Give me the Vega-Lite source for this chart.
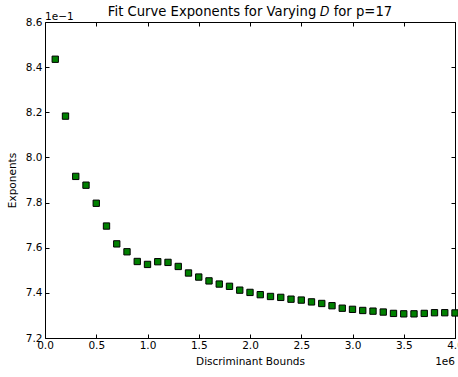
{
  "$schema": "https://vega.github.io/schema/vega-lite/v6.json",
  "width": 410,
  "height": 316,
  "autosize": {"type": "none"},
  "padding": {"left": 45, "top": 22, "right": 3, "bottom": 39},
  "background": "white",
  "title": {
    "text": "Fit Curve Exponents for Varying 𝐷 for p=17",
    "font": "DejaVu Sans",
    "fontSize": 13.2,
    "fontWeight": "normal",
    "color": "black",
    "anchor": "middle",
    "offset": -7
  },
  "config": {
    "view": {"stroke": "black", "strokeWidth": 1},
    "axis": {
      "domain": false,
      "grid": false,
      "tickColor": "black",
      "tickSize": -4,
      "tickWidth": 1,
      "labelFont": "DejaVu Sans",
      "labelFontSize": 10.5,
      "labelColor": "black",
      "titleFont": "DejaVu Sans",
      "titleFontSize": 10.5,
      "titleFontWeight": "normal",
      "titleColor": "black"
    }
  },
  "data": {
    "values": [
      {"bound": 100000, "exponent": 0.8435},
      {"bound": 200000, "exponent": 0.8183},
      {"bound": 300000, "exponent": 0.7916},
      {"bound": 400000, "exponent": 0.7877},
      {"bound": 500000, "exponent": 0.7797},
      {"bound": 600000, "exponent": 0.7696},
      {"bound": 700000, "exponent": 0.7617},
      {"bound": 800000, "exponent": 0.7582},
      {"bound": 900000, "exponent": 0.7539},
      {"bound": 1000000, "exponent": 0.7526},
      {"bound": 1100000, "exponent": 0.7538},
      {"bound": 1200000, "exponent": 0.7535},
      {"bound": 1300000, "exponent": 0.7517},
      {"bound": 1400000, "exponent": 0.7488},
      {"bound": 1500000, "exponent": 0.7470},
      {"bound": 1600000, "exponent": 0.7453},
      {"bound": 1700000, "exponent": 0.7439},
      {"bound": 1800000, "exponent": 0.7429},
      {"bound": 1900000, "exponent": 0.7412},
      {"bound": 2000000, "exponent": 0.7402},
      {"bound": 2100000, "exponent": 0.7392},
      {"bound": 2200000, "exponent": 0.7384},
      {"bound": 2300000, "exponent": 0.7380},
      {"bound": 2400000, "exponent": 0.7372},
      {"bound": 2500000, "exponent": 0.7368},
      {"bound": 2600000, "exponent": 0.7360},
      {"bound": 2700000, "exponent": 0.7353},
      {"bound": 2800000, "exponent": 0.7343},
      {"bound": 2900000, "exponent": 0.7332},
      {"bound": 3000000, "exponent": 0.7327},
      {"bound": 3100000, "exponent": 0.7322},
      {"bound": 3200000, "exponent": 0.7319},
      {"bound": 3300000, "exponent": 0.7315},
      {"bound": 3400000, "exponent": 0.7309},
      {"bound": 3500000, "exponent": 0.7307},
      {"bound": 3600000, "exponent": 0.7307},
      {"bound": 3700000, "exponent": 0.7309},
      {"bound": 3800000, "exponent": 0.7312},
      {"bound": 3900000, "exponent": 0.7312},
      {"bound": 4000000, "exponent": 0.7311}
    ]
  },
  "layer": [
    {
      "mark": {"type": "point", "shape": "square", "filled": true, "size": 40, "fill": "#008000", "stroke": "black", "strokeWidth": 1, "opacity": 1},
      "encoding": {
        "x": {
          "field": "bound", "type": "quantitative",
          "scale": {"domain": [0, 4000000], "nice": false, "zero": false},
          "axis": {
            "orient": "bottom",
            "title": "Discriminant Bounds",
            "values": [0, 500000, 1000000, 1500000, 2000000, 2500000, 3000000, 3500000, 4000000],
            "labelExpr": "format(datum.value / 1000000, '.1f')",
            "labelPadding": 6,
            "labelFlush": false,
            "labelOverlap": false,
            "titlePadding": 6
          }
        },
        "y": {
          "field": "exponent", "type": "quantitative",
          "scale": {"domain": [0.72, 0.86], "nice": false, "zero": false},
          "axis": {
            "orient": "left",
            "title": "Exponents",
            "values": [0.72, 0.74, 0.76, 0.78, 0.8, 0.82, 0.84, 0.86],
            "labelExpr": "format(datum.value * 10, '.1f')",
            "labelPadding": 7,
            "labelFlush": false,
            "labelOverlap": false,
            "titlePadding": 8
          }
        }
      }
    },
    {
      "data": {"values": [{"label": "1e−1"}]},
      "mark": {"type": "text", "align": "left", "baseline": "alphabetic", "dy": -2, "font": "DejaVu Sans", "fontSize": 10.5, "color": "black"},
      "encoding": {
        "x": {"datum": 0, "type": "quantitative", "axis": {"orient": "top", "labels": false, "title": null, "values": [0, 500000, 1000000, 1500000, 2000000, 2500000, 3000000, 3500000, 4000000]}},
        "y": {"datum": 0.86, "type": "quantitative", "axis": {"orient": "right", "labels": false, "title": null, "values": [0.72, 0.74, 0.76, 0.78, 0.8, 0.82, 0.84, 0.86]}},
        "text": {"field": "label"}
      }
    },
    {
      "data": {"values": [{"label": "1e6"}]},
      "mark": {"type": "text", "align": "right", "baseline": "alphabetic", "dy": 27, "font": "DejaVu Sans", "fontSize": 10.5, "color": "black"},
      "encoding": {
        "x": {"datum": 4000000, "type": "quantitative", "axis": null},
        "y": {"datum": 0.72, "type": "quantitative", "axis": null},
        "text": {"field": "label"}
      }
    }
  ],
  "resolve": {"axis": {"x": "independent", "y": "independent"}}
}
